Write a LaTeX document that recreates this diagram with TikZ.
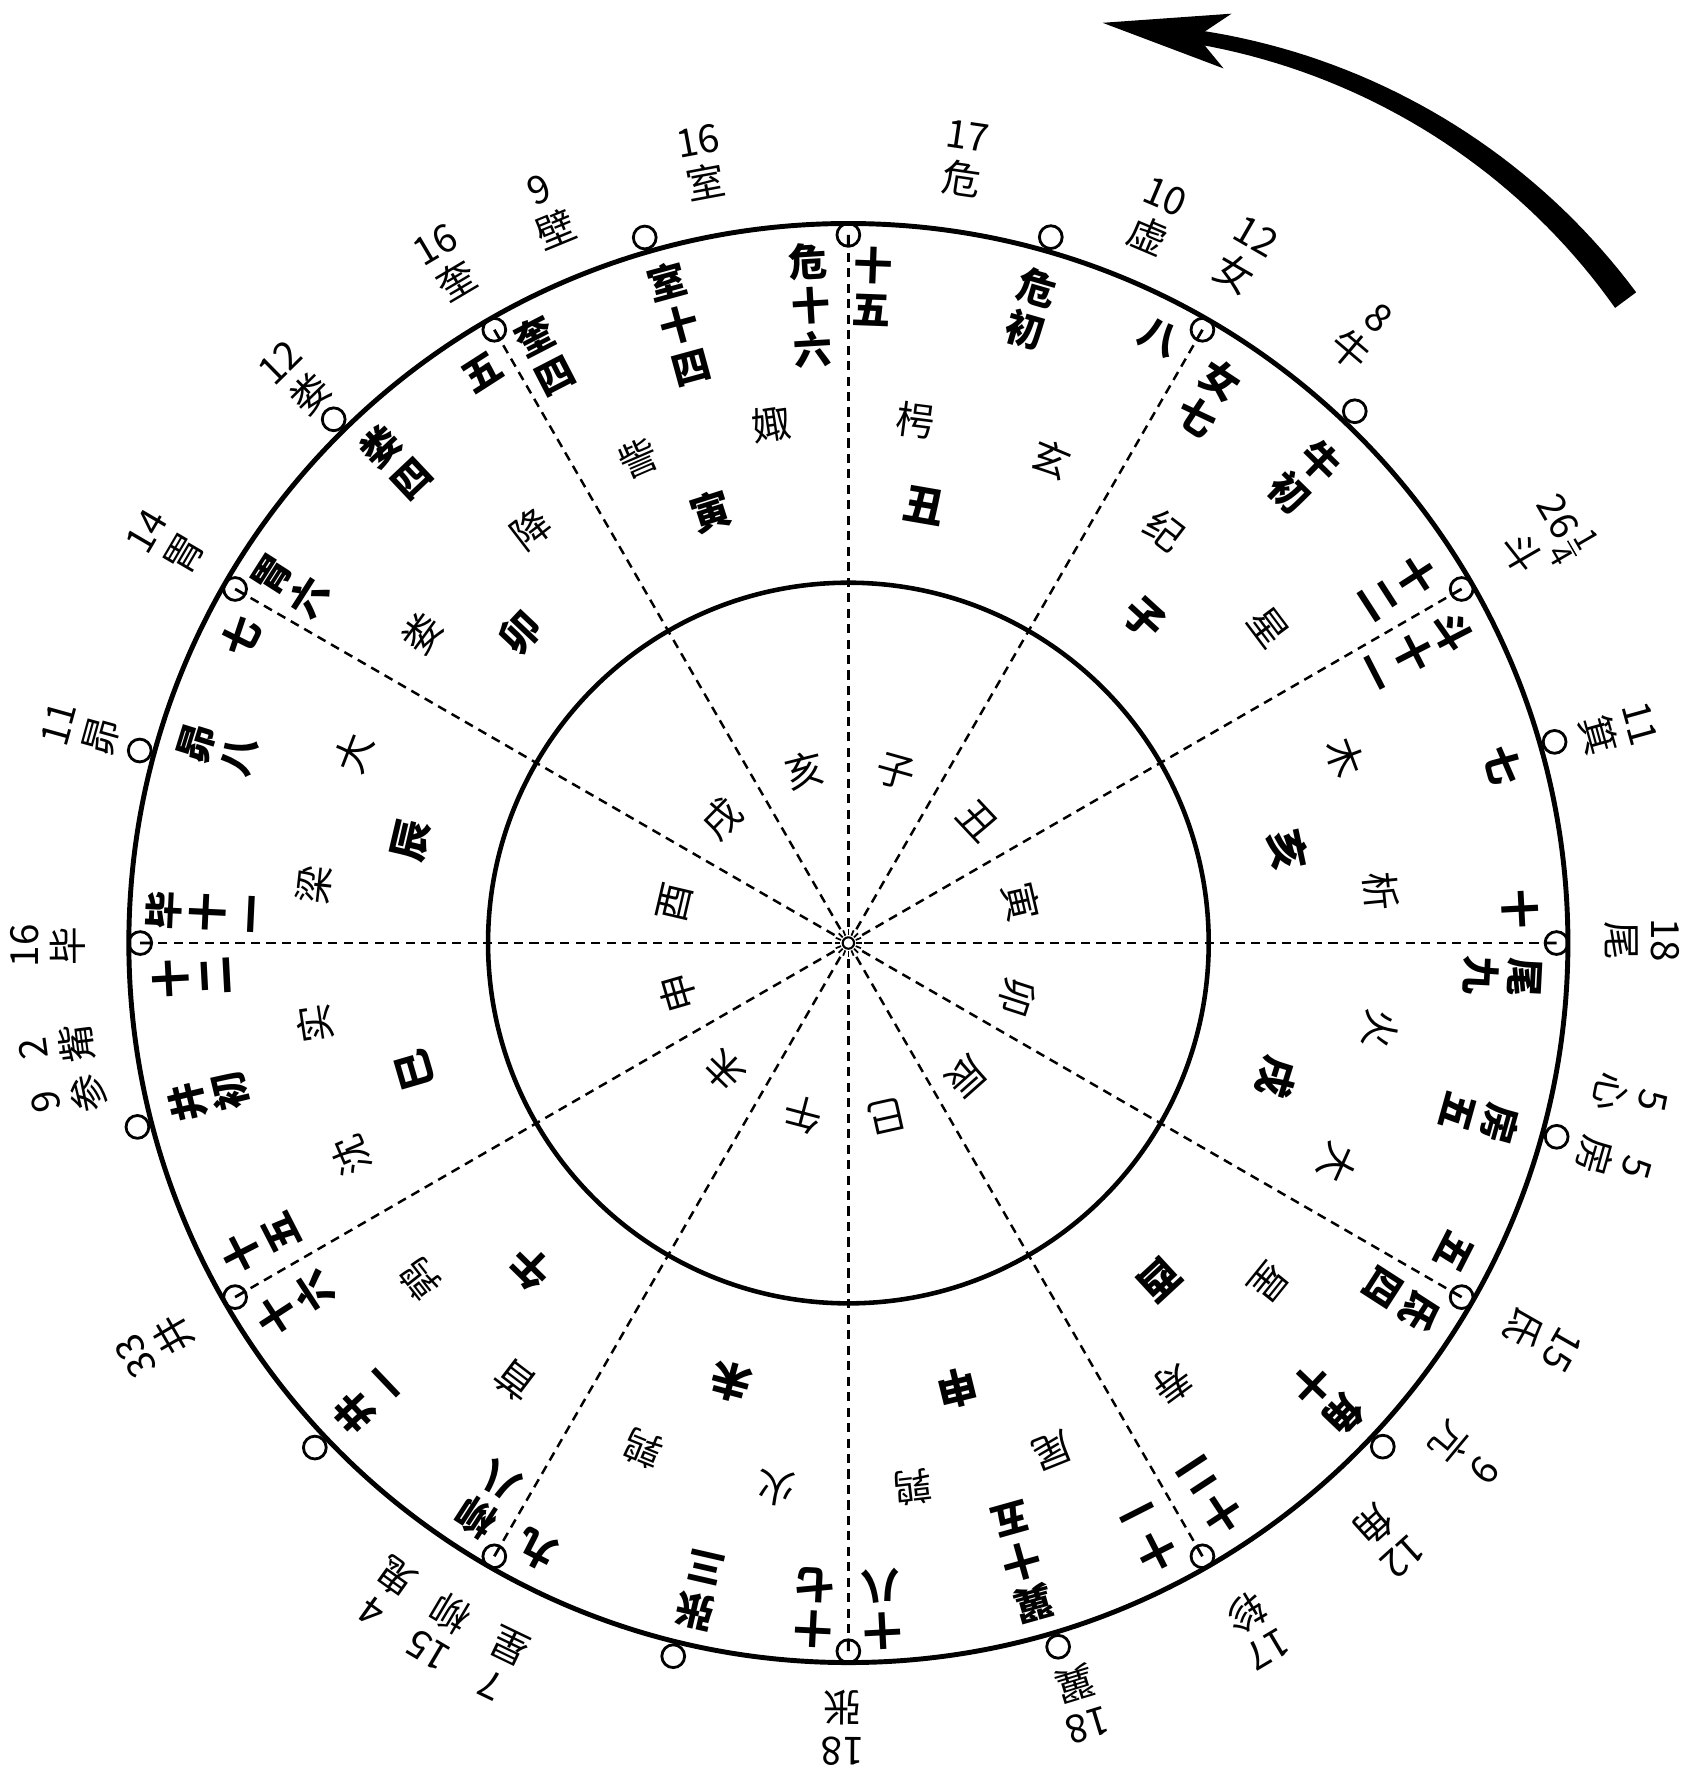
\documentclass[tikz,border=0pt]{standalone}
\usepackage{fontspec}
\newfontfamily\cjk{Noto Sans CJK SC}
\newcommand\qtr{$\frac{\hbox{\fontsize{9}{9}\selectfont 1}}{\hbox{\fontsize{9}{9}\selectfont 4}}$}
\begin{document}
\begin{tikzpicture}[x=1.14cm,y=1.14cm,
  every node/.style={inner sep=0pt,align=center,font=\cjk\fontsize{11}{12.5}\selectfont},
  degtxt/.style={font=\cjk\bfseries\fontsize{11}{12.5}\selectfont},
  brtxt/.style={font=\cjk\bfseries\fontsize{11.5}{13}\selectfont},
  hole/.style={line width=0.8pt},
  ray/.style={line width=0.7pt,dash pattern=on 2.6pt off 1.8pt}]
  \useasboundingbox (-7.44,-7.41) rectangle (7.42,8.27);
  \draw[line width=1.4pt] (0,0) circle (6.31);
  \draw[line width=1.3pt] (0,0) circle (3.16);
  \foreach \a in {0,30,...,330} {
    \draw[ray] (\a:0.14) -- (\a:6.11);
    \draw[hole] (\a:6.21) circle (0.1) (\a:6.21) -- (\a:6.11);
  }
  \foreach \a in {106.1,74.0,46.4,15.9,-15.3,-43.3,-73.4,256.2,223.4,194.5,164.8,134.5}
    \draw[hole] (\a:6.44) circle (0.1);
  \draw[line width=0.6pt] (0,0) circle (0.05);
  \foreach \a in {0,22.5,...,337.5} \draw[line width=0.5pt] (\a:0.07) -- (\a:0.12);
  \fill plot[domain=36.6:82.5,samples=40,variable=\u] ({2.20+(5.865-0.000109*(\u-36.6))*cos(\u)},{2.21+(5.865-0.000109*(\u-36.6))*sin(\u)})
    -- plot[domain=82.5:36.6,samples=40,variable=\u] ({2.20+(5.635+0.00229*(\u-36.6))*cos(\u)},{2.21+(5.635+0.00229*(\u-36.6))*sin(\u)}) -- cycle;
  \fill (2.23,8.07) -- (3.36,8.15) -- (3.06,7.95) -- (3.29,7.67) -- cycle;
  \foreach \a/\r/\t [count=\i] in {100.6/6.96/{16\\室},81.6/6.95/{17\\危},112.3/6.94/{9\\壁},
    120.6/6.92/{16\\奎},134.4/6.92/{12\\娄},149.6/6.93/{14\\胃},164.5/6.98/{11\\昴},
    180.2/7.02/{16\\毕},187.4/7.00/{2\\觜},191.2/6.97/{9\\参},210.1/7.02/{33\\井},
    234.5/7.00/{4\\鬼},239.3/7.01/{15\\柳},244.3/7.02/{7\\星},269.6/6.88/{18\\张},
    287.0/6.97/{18\\翼},300.7/7.00/{17\\轸},312.1/7.05/{12\\角},320.3/7.04/{9\\亢},
    330.3/7.00/{15\\氐},344.1/6.98/{5\\房},348.9/6.99/{5\\心},0.2/6.96/{18\\尾},
    15.5/7.00/{11\\箕},30.1/7.07/{26\qtr\\斗},49.7/6.99/{8\\牛},60.0/6.95/{12\\女},
    67.0/6.91/{10\\虚}}
    \node[rotate=\a-90] (lab\i) at (\a:\r) {\t};
  \foreach \a/\r/\t [count=\i] in {87.9/5.76/{十\\五},93.4/5.60/{危\\十\\六},105.3/5.63/{室\\十\\四},
    117.3/5.80/{奎\\四},122.7/5.95/{五},133.3/5.79/{娄\\四},147.4/5.81/{胃\\六},
    153.2/5.97/{七},162.9/5.79/{昴\\八},177.3/5.64/{毕\\十\\一},183.0/5.77/{十\\二},
    193.5/5.77/{井\\初},207.1/5.79/{十\\五},213.1/5.79/{十\\六},223.6/5.80/{井\\一},
    237.1/5.81/{柳\\八},242.8/5.98/{九},257.1/5.83/{张\\三},267.1/5.84/{十\\七},
    272.9/5.85/{十\\八},285.7/5.64/{翼\\十\\五},296.9/5.81/{十\\一},303.3/5.80/{十\\二},
    316.4/5.81/{角\\十},327.2/5.78/{氐\\四},333.0/5.96/{五},344.5/5.75/{房\\五},
    357.1/5.74/{尾\\九},2.9/5.90/{十},15.2/5.95/{七},27.2/5.59/{斗\\十\\一},
    32.9/5.75/{十\\二},45.6/5.72/{牛\\初},56.5/5.73/{女\\七},62.9/5.97/{八},73.9/5.79/{危\\初}}
    \node[degtxt,rotate=\a-90] (deg\i) at (\a:\r) {\t};
  \foreach \a/\r/\t [count=\i] in {98.4/4.60/娵,113.4/4.63/訾,82.7/4.62/枵,67.2/4.60/玄,
    52.5/4.56/纪,36.9/4.61/星,20.5/4.65/木,5.6/4.69/析,-9.2/4.73/火,-24.2/4.71/大,
    -38.9/4.74/星,-53.6/4.80/寿,-68.2/4.79/尾,-83.2/4.81/鹑,262.5/4.82/火,247.9/4.79/鹑,
    232.7/4.82/首,218.1/4.78/鹑,203.2/4.74/沈,188.6/4.73/实,173.8/4.71/梁,159.0/4.65/大,
    144.0/4.62/娄,127.5/4.58/降}
    \node[rotate=\a-90] (stn\i) at (\a:\r) {\t};
  \foreach \a/\r/\t [count=\i] in {107.7/3.97/寅,80.2/3.89/丑,47.6/3.85/子,12.0/3.94/亥,
    -17.4/3.94/戌,-47.2/4.02/酉,-76.2/4.02/申,255.0/3.99/未,225.6/3.99/午,196.3/3.96/巳,
    166.8/3.94/辰,136.6/3.96/卯}
    \node[brtxt,rotate=\a-90] (br\i) at (\a:\r) {\t};
  \foreach \a/\t [count=\i] in {74.4/子,104.1/亥,135.5/戌,166.8/酉,196.2/申,226.0/未,
    255.3/午,282.6/巳,311.6/辰,342.1/卯,13.2/寅,43.3/丑}
    \node[rotate=\a-90] (in\i) at (\a:1.56) {\t};
\end{tikzpicture}
\end{document}
